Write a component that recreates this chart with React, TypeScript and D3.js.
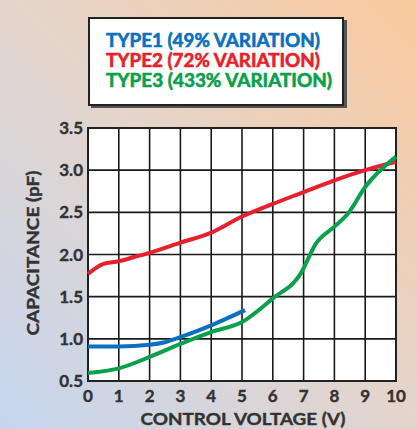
import * as d3 from "d3";
import React, { useEffect, useRef } from "react";

// control voltage (V) vs capacitance (pF)
const type1V = [0, 1, 2, 2.5, 3, 4, 5.1];
const type1C = [0.91, 0.91, 0.93, 0.96, 1.02, 1.16, 1.34];

const type2V = [0, 0.5, 1, 1.5, 2, 3, 4, 5, 6, 7, 8, 9, 10];
const type2C = [1.77, 1.89, 1.92, 1.97, 2.02, 2.14, 2.26, 2.45, 2.6, 2.74, 2.88, 3.0, 3.1];

const type3V = [0, 1, 2, 3, 4, 5, 6, 6.9, 7.4, 8, 8.45, 9, 10];
const type3C = [0.595, 0.65, 0.785, 0.94, 1.08, 1.2, 1.48, 1.77, 2.13, 2.33, 2.49, 2.8, 3.16];

const xTicks = [0, 1, 2, 3, 4, 5, 6, 7, 8, 9, 10];
const yTicks = [0.5, 1.0, 1.5, 2.0, 2.5, 3.0, 3.5];

const legendLabels = ["TYPE1 (49% VARIATION)", "TYPE2 (72% VARIATION)", "TYPE3 (433% VARIATION)"];
const colors = ["#0a70c0", "#e81f2c", "#0aa04c"];

const W = 417;
const H = 429;
const FONT = "Lato, 'Open Sans', sans-serif";

export default function App() {
  const svgRef = useRef<SVGSVGElement | null>(null);

  useEffect(() => {
    const svg = d3.select(svgRef.current);
    svg.selectAll("*").remove();

    const left = 88, right = 396, top = 128, bottom = 381;
    const x = d3.scaleLinear().domain([0, 10]).range([left, right]);
    const y = d3.scaleLinear().domain([0.5, 3.5]).range([bottom, top]);

    // background gradient
    const defs = svg.append("defs");
    const grad = defs.append("linearGradient").attr("id", "bg")
      .attr("x1", 0).attr("y1", 1).attr("x2", 1).attr("y2", 0);
    grad.append("stop").attr("offset", 0).attr("stop-color", "#c5d5ef");
    grad.append("stop").attr("offset", 0.5).attr("stop-color", "#e4d5cc");
    grad.append("stop").attr("offset", 1).attr("stop-color", "#fac99d");
    svg.append("rect").attr("width", W).attr("height", H).attr("fill", "url(#bg)");

    // legend box
    const lg = svg.append("g");
    lg.append("rect").attr("x", 91).attr("y", 20).attr("width", 256).attr("height", 88).attr("fill", "#555");
    lg.append("rect").attr("x", 89).attr("y", 18).attr("width", 254).attr("height", 87)
      .attr("fill", "#fff").attr("stroke", "#222").attr("stroke-width", 2);
    legendLabels.forEach((t, i) => {
      lg.append("text")
        .attr("x", 106).attr("y", 47 + i * 20)
        .attr("fill", colors[i]).attr("stroke", colors[i]).attr("stroke-width", 0.6)
        .attr("font-family", FONT).attr("font-weight", 700).attr("font-size", 18)
        .attr("textLength", i === 2 ? 226 : 214)
        .attr("lengthAdjust", "spacingAndGlyphs")
        .text(t);
    });

    // plot area + grid
    const g = svg.append("g");
    g.append("rect").attr("x", left).attr("y", top).attr("width", right - left).attr("height", bottom - top).attr("fill", "#fff");
    g.selectAll("line.vx").data(xTicks).join("line")
      .attr("x1", d => x(d)).attr("x2", d => x(d)).attr("y1", top).attr("y2", bottom)
      .attr("stroke", "#1a1a1a").attr("stroke-width", 1.6);
    g.selectAll("line.hy").data(yTicks).join("line")
      .attr("y1", d => y(d)).attr("y2", d => y(d)).attr("x1", left).attr("x2", right)
      .attr("stroke", "#1a1a1a").attr("stroke-width", 1.6);
    g.append("rect").attr("x", left).attr("y", top).attr("width", right - left).attr("height", bottom - top)
      .attr("fill", "none").attr("stroke", "#222").attr("stroke-width", 2);

    // curves
    const line = d3.line<[number, number]>().x(d => x(d[0])).y(d => y(d[1])).curve(d3.curveMonotoneX);
    const series = [
      d3.zip(type1V, type1C) as [number, number][],
      d3.zip(type2V, type2C) as [number, number][],
      d3.zip(type3V, type3C) as [number, number][],
    ];
    [1, 2, 0].forEach(i => {
      g.append("path").attr("d", line(series[i]))
        .attr("fill", "none").attr("stroke", colors[i]).attr("stroke-width", 4);
    });

    // tick labels
    svg.append("g").selectAll("text").data(yTicks).join("text")
      .attr("x", 83).attr("y", d => y(d) + 6)
      .attr("text-anchor", "end")
      .attr("font-family", FONT).attr("font-weight", 700).attr("font-size", 17)
      .attr("fill", "#333").attr("stroke", "#333").attr("stroke-width", 0.4)
      .text(d => d.toFixed(1));
    svg.append("g").selectAll("text").data(xTicks).join("text")
      .attr("x", d => x(d)).attr("y", 402)
      .attr("text-anchor", "middle")
      .attr("font-family", FONT).attr("font-weight", 700).attr("font-size", 17)
      .attr("fill", "#333").attr("stroke", "#333").attr("stroke-width", 0.4)
      .text(d => String(d));

    // axis titles
    svg.append("text")
      .attr("x", 243).attr("y", 425).attr("text-anchor", "middle")
      .attr("font-family", FONT).attr("font-weight", 700).attr("font-size", 17)
      .attr("fill", "#333").attr("stroke", "#333").attr("stroke-width", 0.4)
      .attr("textLength", 205).attr("lengthAdjust", "spacingAndGlyphs")
      .text("CONTROL VOLTAGE (V)");
    svg.append("text")
      .attr("transform", "translate(39,253) rotate(-90)").attr("text-anchor", "middle")
      .attr("font-family", FONT).attr("font-weight", 700).attr("font-size", 17)
      .attr("fill", "#333").attr("stroke", "#333").attr("stroke-width", 0.4)
      .attr("textLength", 165).attr("lengthAdjust", "spacingAndGlyphs")
      .text("CAPACITANCE (pF)");
  }, []);

  return (
    <svg ref={svgRef} width={W} height={H}
      style={{ position: "absolute", left: 0, top: 0, display: "block" }} />
  );
}
